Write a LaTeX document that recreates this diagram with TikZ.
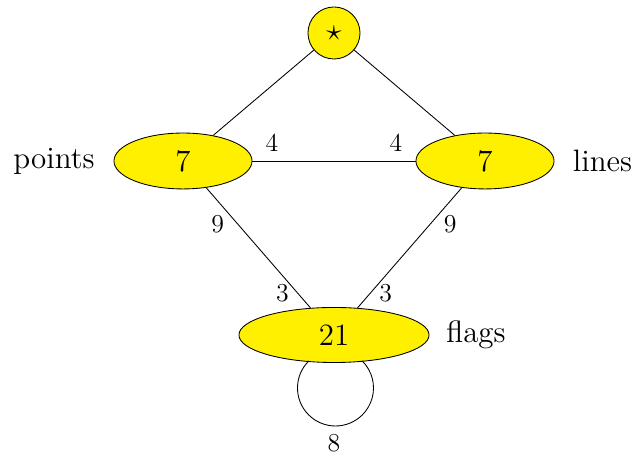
\documentclass[tikz,border=0pt]{standalone}
\usetikzlibrary{shapes.geometric}
\definecolor{nodefill}{RGB}{255,240,0}
\begin{document}
\begin{tikzpicture}[x=0.465pt,y=0.465pt,
  vtx/.style={draw,fill=nodefill,ellipse,inner sep=0pt,font=\Large},
  hub/.style={draw,fill=nodefill,circle,inner sep=0pt,minimum size=24.2pt,font=\Large},
  tag/.style={font=\Large,inner sep=0pt},
  num/.style={font=\large,inner sep=0pt},
  link/.style={line width=0.4pt}]
\useasboundingbox (0,0) rectangle (634,455);

% vertices
\node[hub] (s) at (334,422) {$\star$};
\node[vtx,minimum width=64.2pt,minimum height=26pt] (p) at (183,294) {7};
\node[vtx,minimum width=64.2pt,minimum height=26pt] (l) at (485,294) {7};
\node[vtx,minimum width=88.4pt,minimum height=25.6pt] (f) at (334,120) {21};

% vertex names
\node[tag] (tp) at (54,294) {points};
\node[tag] (tl) at (602.5,294) {lines};
\node[tag] (tf) at (476,120) {flags};

% edges with their multiplicities
\draw[link] (s) -- (p);
\draw[link] (s) -- (l);
\draw[link] (p) -- (l)
  node[num,pos=0.12,yshift=8.4pt] (n1) {4}
  node[num,pos=0.88,yshift=8.4pt] (n2) {4};
\draw[link] (p) -- (f)
  node[num,pos=0.30,xshift=-9.2pt] (n3) {9}
  node[num,pos=0.875,xshift=-7pt] (n4) {3};
\draw[link] (l) -- (f)
  node[num,pos=0.30,xshift=9.2pt] (n5) {9}
  node[num,pos=0.875,xshift=7pt] (n6) {3};

% self-loop on flags
\coordinate (loopc) at (335.5,67);
\draw[link] ([shift={(134.5:17.67pt)}]loopc) arc[start angle=134.5,end angle=405.5,radius=17.67pt];
\node[num] (n7) at (334,12) {8};
\end{tikzpicture}
\end{document}
